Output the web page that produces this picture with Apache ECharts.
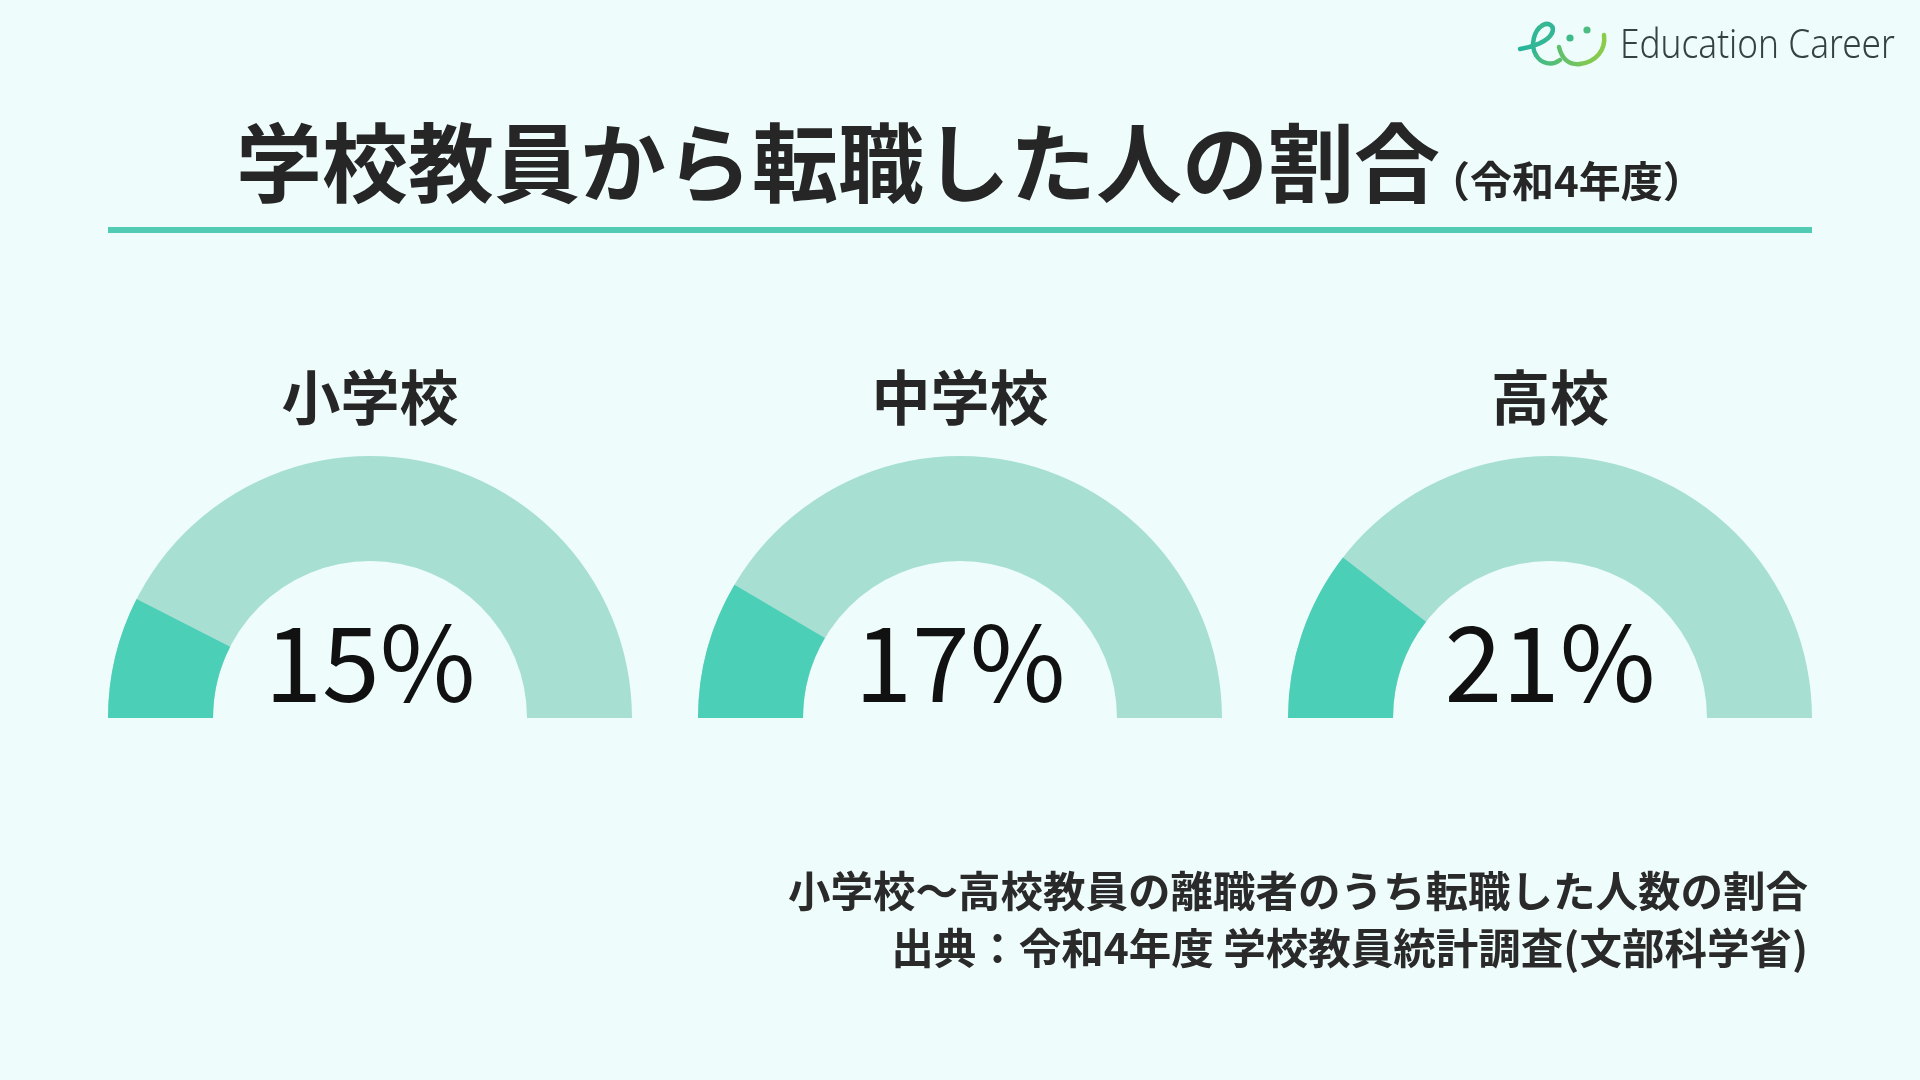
<!DOCTYPE html>
<html>
<head>
<meta charset="utf-8">
<script src="https://cdn.jsdelivr.net/npm/echarts@6/dist/echarts.min.js"></script>
<style>
html,body{margin:0;padding:0;background:#eefdfb;}
#chart{width:1920px;height:1080px;}
</style>
</head>
<body>
<div id="chart"></div>
<script>
var categories = ['小学校', '中学校', '高校'];
var values = [15, 17, 21];
var titleText = '学校教員から転職した人の割合';
var subTitleText = '（令和4年度）';
var noteLines = ['小学校〜高校教員の離職者のうち転職した人数の割合', '出典：令和4年度 学校教員統計調査(文部科学省)'];
var logoText = 'Education Career';

var DARK = '#4bcfb7';
var LIGHT = '#a8dfd3';
var centersX = [370, 960, 1550];
var centerY = 718;
var CJK = '"Noto Sans CJK JP", "Noto Sans", sans-serif';

var chart = echarts.init(document.getElementById('chart'));

var series = categories.map(function (c, i) {
  return {
    type: 'gauge',
    center: [centersX[i], centerY],
    radius: 262,
    startAngle: 180,
    endAngle: 0,
    min: 0,
    max: 100,
    animation: false,
    axisLine: { roundCap: false, lineStyle: { width: 105, color: [[1, LIGHT]] } },
    progress: { show: true, width: 105, roundCap: false, itemStyle: { color: DARK } },
    pointer: { show: false },
    anchor: { show: false },
    axisTick: { show: false },
    splitLine: { show: false },
    axisLabel: { show: false },
    title: { show: false },
    detail: {
      show: true,
      offsetCenter: [0, -56],
      formatter: '{value}%',
      fontSize: 104,
      fontWeight: 'normal',
      fontFamily: CJK,
      color: '#111111',
      valueAnimation: false
    },
    data: [{ value: values[i], name: c }]
  };
});

var graphics = [];
// main title
graphics.push({
  type: 'text', x: 236, y: 163,
  style: { text: titleText, font: 'bold 86px ' + CJK, fill: '#262626', textAlign: 'left', textVerticalAlign: 'middle' }
});
graphics.push({
  type: 'text', x: 1428, y: 181,
  style: { text: subTitleText, font: 'bold 42px ' + CJK, fill: '#262626', textAlign: 'left', textVerticalAlign: 'middle' }
});
// underline
graphics.push({
  type: 'rect', shape: { x: 108, y: 227, width: 1704, height: 6 },
  style: { fill: '#52cbb5' }
});
// category labels
categories.forEach(function (c, i) {
  graphics.push({
    type: 'text', x: centersX[i], y: 398,
    style: { text: c, font: 'bold 59px ' + CJK, fill: '#262626', textAlign: 'center', textVerticalAlign: 'middle' }
  });
});
// notes
noteLines.forEach(function (t, i) {
  graphics.push({
    type: 'text', x: 1808, y: 891 + i * 57,
    style: { text: t, font: 'bold 42.5px ' + CJK, fill: '#2a2a2a', textAlign: 'right', textVerticalAlign: 'middle' }
  });
});
// logo
function grad(c1, c2) {
  return { type: 'linear', x: 0, y: 0, x2: 1, y2: 0, colorStops: [{ offset: 0, color: c1 }, { offset: 1, color: c2 }] };
}
var logoCurves = [
  [1520, 49, 1532, 47, 1548, 42, 1552, 33, '#25b49a', '#3ab794'],
  [1552, 33, 1555, 26, 1549, 22, 1543, 25, '#3ab794', '#2fb698'],
  [1543, 25, 1534, 30, 1530, 45, 1536, 55, '#2fb698', '#3cb98c'],
  [1536, 55, 1541, 64, 1552, 66, 1560, 60, '#3cb98c', '#5fc06c'],
  [1559, 47, 1562, 60, 1570, 65, 1580, 64, '#5cbf70', '#78c65a'],
  [1580, 64, 1596, 62, 1606, 50, 1604, 35, '#78c65a', '#8dcc4a']
];
logoCurves.forEach(function (p) {
  graphics.push({
    type: 'bezierCurve',
    shape: { x1: p[0], y1: p[1], cpx1: p[2], cpy1: p[3], cpx2: p[4], cpy2: p[5], x2: p[6], y2: p[7] },
    style: { fill: null, stroke: grad(p[8], p[9]), lineWidth: 4.5, lineCap: 'round' }
  });
});
graphics.push({ type: 'circle', shape: { cx: 1570, cy: 38, r: 3.6 }, style: { fill: '#3dbb8a' } });
graphics.push({ type: 'circle', shape: { cx: 1587, cy: 30, r: 3.6 }, style: { fill: '#4cbd80' } });
graphics.push({
  type: 'text', x: 1620, y: 47, scaleX: 0.88,
  style: { text: logoText, font: '300 40px "Noto Sans", sans-serif', fill: '#344242', textAlign: 'left', textVerticalAlign: 'middle' }
});

chart.setOption({
  backgroundColor: '#eefdfb',
  animation: false,
  series: series,
  graphic: graphics
});
</script>
</body>
</html>
